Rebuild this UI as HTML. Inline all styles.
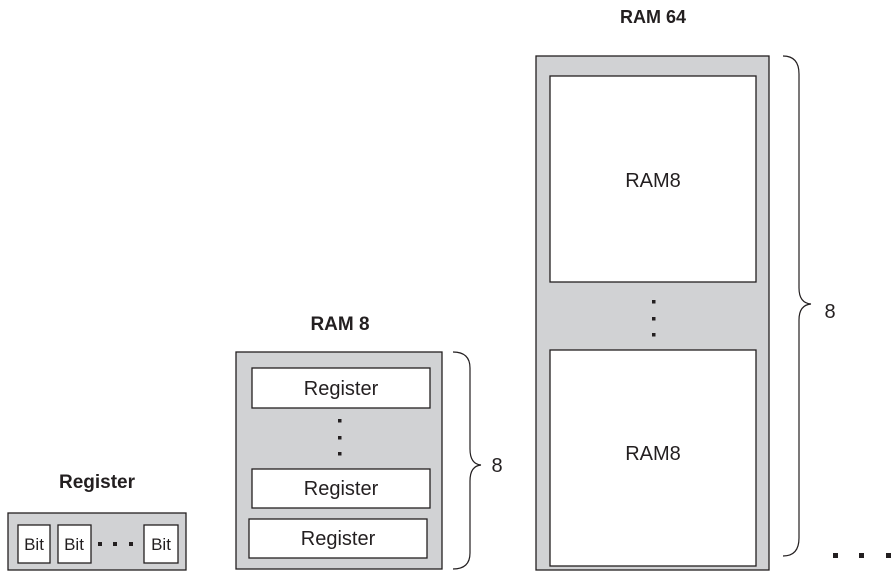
<!DOCTYPE html>
<html><head><meta charset="utf-8"><style>
html,body{margin:0;padding:0;background:#fff;}
svg{display:block;}
text{font-family:"Liberation Sans",Arial,sans-serif;fill:#231f20;}
</style></head><body>
<svg width="895" height="572" viewBox="0 0 895 572" xmlns="http://www.w3.org/2000/svg">
<g stroke="#231f20" stroke-width="1.3">
<rect x="8" y="513" width="178" height="57" fill="#d1d2d4"/>
<rect x="18" y="525" width="32" height="38" fill="#fff"/>
<rect x="58" y="525" width="33" height="38" fill="#fff"/>
<rect x="144" y="525" width="34" height="38" fill="#fff"/>
<rect x="236" y="352" width="206" height="217" fill="#d1d2d4"/>
<rect x="252" y="368" width="178" height="40" fill="#fff"/>
<rect x="252" y="469" width="178" height="39" fill="#fff"/>
<rect x="249" y="519" width="178" height="39" fill="#fff"/>
<rect x="536" y="56" width="233" height="514" fill="#d1d2d4"/>
<rect x="550" y="76" width="206" height="206" fill="#fff"/>
<rect x="550" y="350" width="206" height="216" fill="#fff"/>
</g>
<g fill="#231f20">
<rect x="98" y="542" width="4" height="4"/><rect x="113" y="542" width="4" height="4"/><rect x="129" y="542" width="4" height="4"/>
<rect x="338" y="419" width="3.5" height="3.5"/><rect x="338" y="436" width="3.5" height="3.5"/><rect x="338" y="452" width="3.5" height="3.5"/>
<rect x="652" y="300" width="3.5" height="3.5"/><rect x="652" y="317" width="3.5" height="3.5"/><rect x="652" y="333" width="3.5" height="3.5"/>
<rect x="833" y="553" width="5" height="5"/><rect x="859" y="553" width="5" height="5"/><rect x="886" y="553" width="5" height="5"/>
</g>
<g fill="none" stroke="#231f20" stroke-width="1.2">
<path d="M453 352 Q470 352 470 368 L470 449 Q470 464 481 465 Q470 466 470 481 L470 553 Q470 569 453 569"/>
<path d="M783 56 Q799 56 799 74 L799 288 Q799 303 811 304 Q799 305 799 320 L799 538 Q799 556 783 556"/>
</g>
<text x="97" y="488" font-size="19" font-weight="bold" text-anchor="middle">Register</text>
<text x="340" y="330" font-size="19" font-weight="bold" text-anchor="middle">RAM 8</text>
<text x="653" y="23" font-size="18" font-weight="bold" text-anchor="middle">RAM 64</text>
<g font-size="17" text-anchor="middle">
<text x="34" y="550">Bit</text><text x="74" y="550">Bit</text><text x="161" y="550">Bit</text>
</g>
<g font-size="20" text-anchor="middle">
<text x="341" y="395">Register</text>
<text x="341" y="495">Register</text>
<text x="338" y="545">Register</text>
<text x="653" y="187">RAM8</text>
<text x="653" y="460">RAM8</text>
<text x="497" y="472">8</text>
<text x="830" y="318">8</text>
</g>
</svg>
</body></html>
